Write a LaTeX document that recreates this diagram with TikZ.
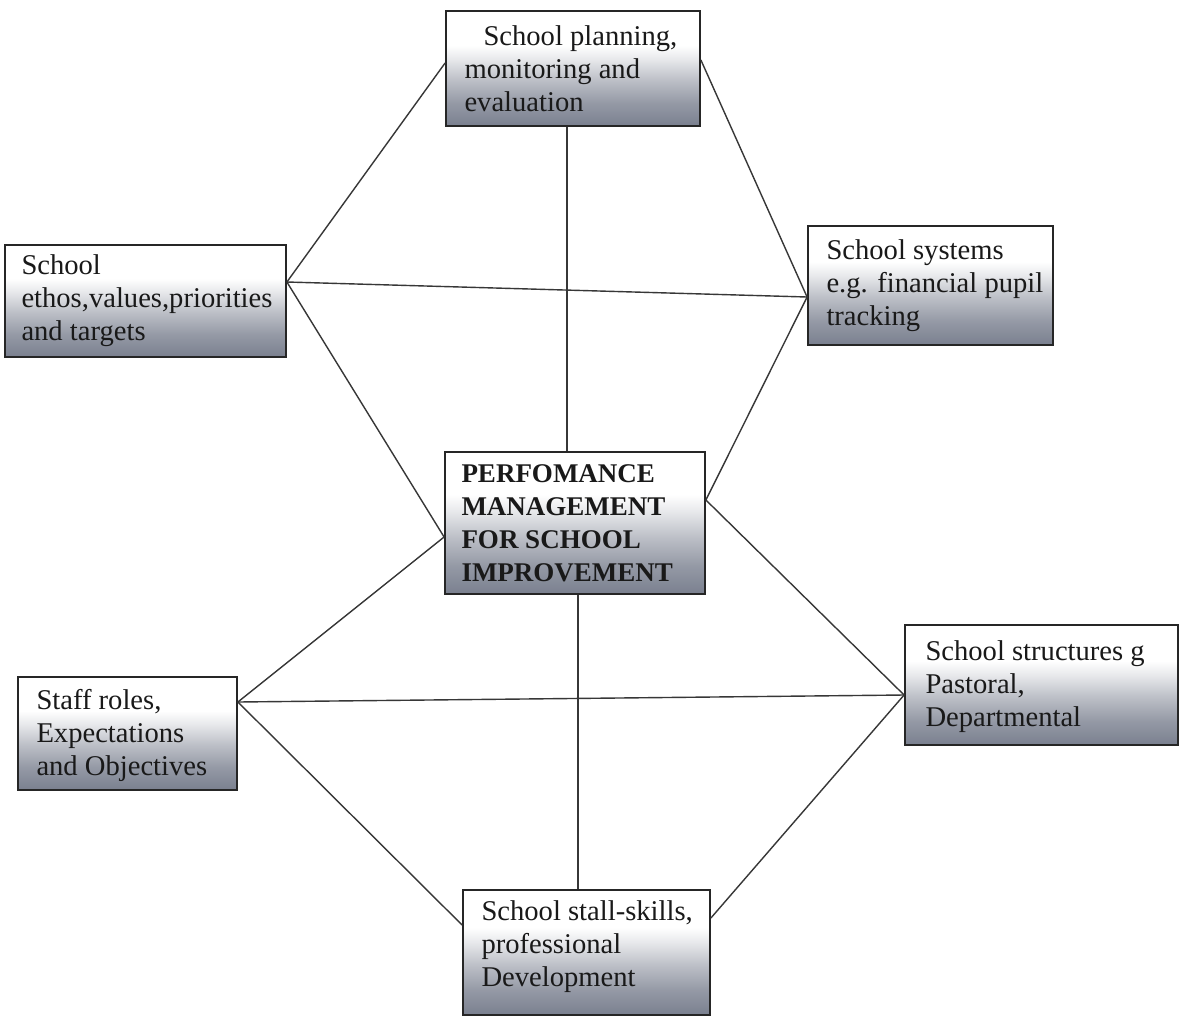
\documentclass[tikz,border=0pt]{standalone}
\usepackage{fontspec}
\setmainfont{Liberation Serif}
\definecolor{boxgray}{RGB}{122,128,143}
\definecolor{linegray}{RGB}{55,55,55}
\pgfdeclareverticalshading{boxshade}{100bp}{%
  color(0bp)=(boxgray); color(25bp)=(boxgray);
  color(35bp)=(boxgray!80); color(45bp)=(boxgray!50);
  color(54bp)=(boxgray!18); color(60bp)=(white);
  color(75bp)=(white); color(100bp)=(white)}
\begin{document}
\begin{tikzpicture}[x=0.5pt,y=-0.5pt,
  boxnode/.style={draw=black!85, line width=0.9pt, inner sep=0pt,
    shading=boxshade},
  boxtext/.style={anchor=west, inner sep=0pt, align=left,
    font=\fontsize{14.3}{16.5}\selectfont, xshift=9.5pt, text=black!90},
  link/.style={draw=linegray, line width=0.7pt}]
\useasboundingbox (0,0) rectangle (1180,1019);
\fill[white] (0,0) rectangle (1180,1019);

% boxes
\node[boxnode, minimum width=127pt, minimum height=57.5pt] (b1) at (573,68.5) {};
\node[boxnode, minimum width=140.5pt, minimum height=56pt] (b2) at (145.5,301) {};
\node[boxnode, minimum width=122.5pt, minimum height=59.5pt] (b3) at (930.5,285.5) {};
\node[boxnode, minimum width=130pt, minimum height=71pt] (b4) at (575,523) {};
\node[boxnode, minimum width=136.5pt, minimum height=60pt] (b5) at (1041.5,685) {};
\node[boxnode, minimum width=109.5pt, minimum height=56.5pt] (b6) at (127.5,733.5) {};
\node[boxnode, minimum width=123.5pt, minimum height=62.5pt] (b7) at (586.5,952.5) {};

% texts
\node[boxtext] (t1) at (b1.west) {\hspace*{9.5pt}School planning,\\monitoring and\\evaluation};
\node[boxtext, xshift=-1pt] (t2) at (b2.west) {School\\ethos,values,priorities\\and targets};
\node[boxtext] (t3) at (b3.west) {School systems\\e.g. financial pupil\\tracking};
\node[boxtext, xshift=-1pt, font=\fontsize{13.5}{16.5}\selectfont\bfseries] (t4) at (b4.west) {PERFOMANCE\\MANAGEMENT\\FOR SCHOOL\\IMPROVEMENT};
\node[boxtext, xshift=1pt] (t5) at ([yshift=-1pt]b5.west) {School structures g\\Pastoral,\\Departmental};
\node[boxtext] (t6) at ([yshift=-1pt]b6.west) {Staff roles,\\Expectations\\and Objectives};
\node[boxtext] (t7) at ([yshift=3pt]b7.west) {School stall-skills,\\professional\\Development};

% connectors
\path[link] ([yshift=2.75pt]b1.west) -- ([yshift=9.5pt]b2.east);
\path[link] ([yshift=4.25pt]b1.east) -- ([yshift=-5.75pt]b3.west);
\path[link] ([xshift=-3pt]b1.south) -- ([xshift=-3pt]b1.south |- b4.north);
\path[link] ([yshift=9.5pt]b2.east) -- ([yshift=-5.75pt]b3.west);
\path[link] ([yshift=9.5pt]b2.east) -- ([yshift=-7pt]b4.west);
\path[link] ([yshift=11.5pt]b4.east) -- ([yshift=-5.75pt]b3.west);
\path[link] ([yshift=11.5pt]b4.east) -- ([yshift=-5pt]b5.west);
\path[link] ([yshift=-7pt]b4.west) -- ([yshift=15.75pt]b6.east);
\path[link] ([yshift=15.75pt]b6.east) -- ([yshift=-5pt]b5.west);
\path[link] ([yshift=15.75pt]b6.east) -- ([yshift=13.75pt]b7.west);
\path[link] ([yshift=17.25pt]b7.east) -- ([yshift=-5pt]b5.west);
\path[link] ([xshift=1.5pt]b4.south) -- ([xshift=1.5pt]b4.south |- b7.north);
\end{tikzpicture}
\end{document}
